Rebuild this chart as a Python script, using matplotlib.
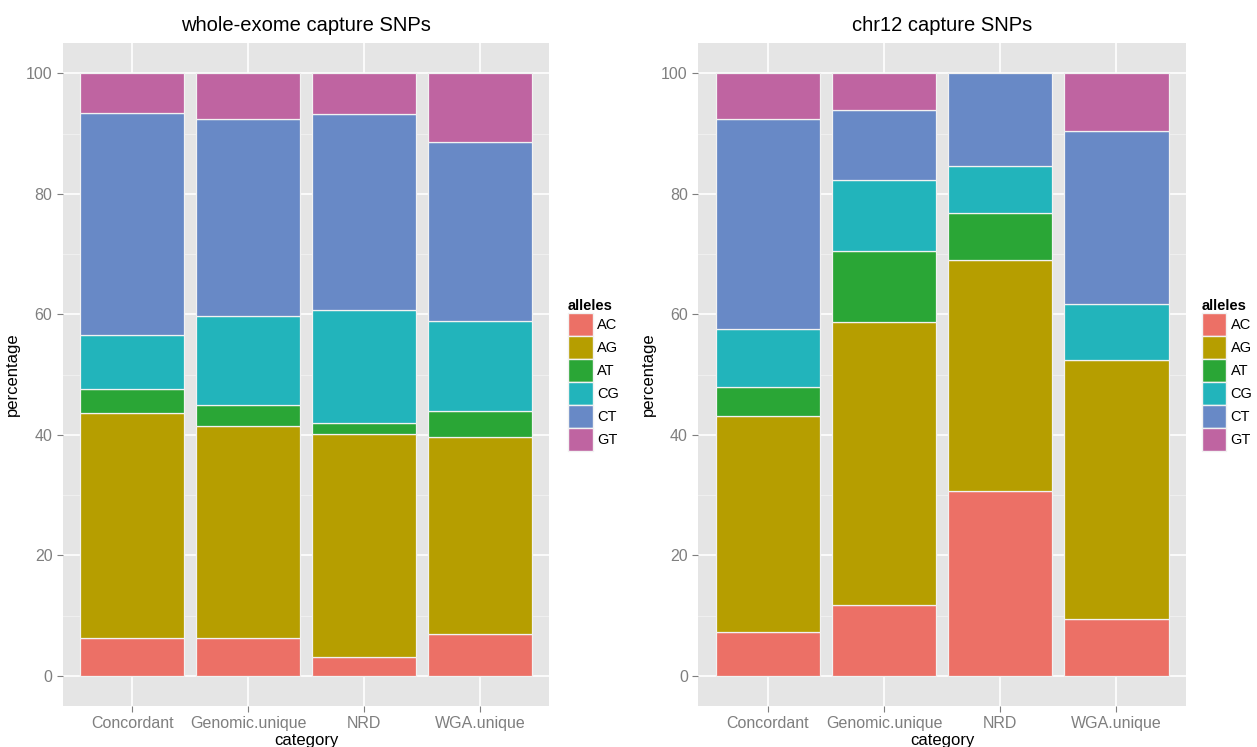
import matplotlib.pyplot as plt
from matplotlib.patches import Patch
import numpy as np

plt.rcParams['font.family'] = ['Liberation Sans', 'DejaVu Sans']

CATEGORIES = ['Concordant', 'Genomic.unique', 'NRD', 'WGA.unique']
ALLELES = ['AC', 'AG', 'AT', 'CG', 'CT', 'GT']
COLORS = ['#EC7066', '#B69E00', '#2AA636', '#22B4BB', '#6889C6', '#BF64A1']

# percentage of each allele pair per category, whole-exome capture
exome_ac = [6.35, 6.2, 3.2, 7.0]
exome_ag = [37.25, 35.2, 37.0, 32.7]
exome_at = [4.0, 3.5, 1.7, 4.2]
exome_cg = [8.9, 14.8, 18.8, 15.0]
exome_ct = [36.9, 32.7, 32.6, 29.8]
exome_gt = [6.6, 7.6, 6.7, 11.3]

# same for chr12 capture
chr12_ac = [7.3, 11.7, 30.7, 9.5]
chr12_ag = [35.8, 47.0, 38.4, 42.9]
chr12_at = [4.9, 11.8, 7.8, 0.0]
chr12_cg = [9.5, 11.8, 7.7, 9.4]
chr12_ct = [35.0, 11.7, 15.4, 28.6]
chr12_gt = [7.5, 6.0, 0.0, 9.6]

BG = '#E5E5E5'
GREY = '#7F7F7F'


def draw_panel(ax, title, series, leg_x):
    ax.set_facecolor(BG)
    for s in ax.spines.values():
        s.set_visible(False)
    x = np.arange(1, len(CATEGORIES) + 1)
    bottom = np.zeros(len(CATEGORIES))
    for vals, color in zip(series, COLORS):
        vals = np.asarray(vals)
        keep = vals > 0
        ax.bar(x[keep], vals[keep], width=0.9, bottom=bottom[keep], color=color,
               edgecolor='#F2F2F2', linewidth=0.9, zorder=3)
        bottom += vals
    ax.set_xlim(0.4, 4.6)
    ax.set_ylim(-5, 105)
    ax.set_xticks(x)
    ax.set_xticklabels(CATEGORIES)
    ax.set_yticks([0, 20, 40, 60, 80, 100])
    ax.set_yticks([10, 30, 50, 70, 90], minor=True)
    ax.grid(True, which='major', color='white', linewidth=1.2, zorder=0)
    ax.grid(True, which='minor', axis='y', color='#F2F2F2', linewidth=0.6, zorder=0)
    ax.tick_params(which='major', colors=GREY, labelsize=11.5, length=4, width=0.8)
    ax.tick_params(which='minor', length=0)
    ax.set_title(title, fontsize=14.5, pad=9)
    ax.set_xlabel('category', fontsize=12, labelpad=1)
    ax.set_ylabel('percentage', fontsize=12, labelpad=4)
    handles = [Patch(facecolor=c, edgecolor='#F2F2F2', label=a) for a, c in zip(ALLELES, COLORS)]
    leg = ax.legend(handles=handles, loc='center left', bbox_to_anchor=(leg_x, 0.5),
                    frameon=False, title='alleles', fontsize=10.5, handlelength=1.7,
                    handleheight=2.05, handletextpad=0.3, labelspacing=0.0,
                    borderaxespad=0.0, borderpad=0.2)
    leg.get_title().set_fontweight('bold')
    leg.get_title().set_fontsize(10.5)
    leg._legend_box.align = 'left'


fig = plt.figure(figsize=(12.57, 7.47), dpi=100)
ax1 = fig.add_axes([0.050, 0.055, 0.387, 0.887])
ax2 = fig.add_axes([0.5555, 0.055, 0.388, 0.887])

draw_panel(ax1, 'whole-exome capture SNPs',
           [exome_ac, exome_ag, exome_at, exome_cg, exome_ct, exome_gt], 1.032)
draw_panel(ax2, 'chr12 capture SNPs',
           [chr12_ac, chr12_ag, chr12_at, chr12_cg, chr12_ct, chr12_gt], 1.026)

fig.savefig('out.png', dpi=100)
